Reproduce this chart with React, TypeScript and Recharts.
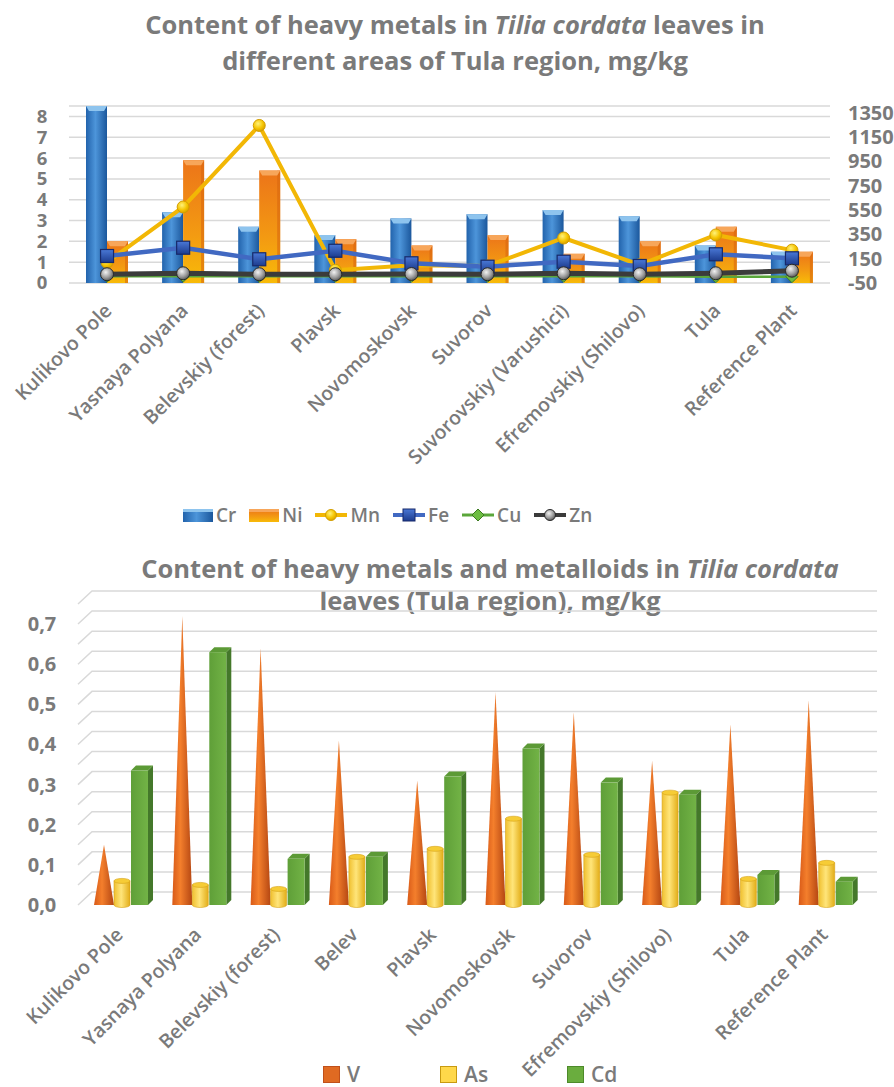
import { Bar, BarChart, CartesianGrid, ComposedChart, Line, XAxis, YAxis } from 'recharts'

const FONT = '"Open Sans", "Noto Sans", sans-serif'
const GREY = '#7a7a7a'

// Upper chart: sites and heavy metal contents, mg/kg
const sites = [
  'Kulikovo Pole',
  'Yasnaya Polyana',
  'Belevskiy (forest)',
  'Plavsk',
  'Novomoskovsk',
  'Suvorov',
  'Suvorovskiy (Varushici)',
  'Efremovskiy (Shilovo)',
  'Tula',
  'Reference Plant',
]
const cr = [8.5, 3.4, 2.7, 2.3, 3.1, 3.3, 3.5, 3.2, 1.8, 1.5]
const ni = [2.0, 5.9, 5.4, 2.1, 1.8, 2.3, 1.4, 2.0, 2.7, 1.5]
const mn = [120, 575, 1245, 55, 95, 90, 320, 100, 345, 220]
const fe = [172, 240, 145, 215, 112, 84, 125, 90, 186, 153]
const cu = [6, 6, 5, 6, 5, 5, 6, 5, 2, 2]
const zn = [22, 30, 22, 22, 24, 22, 30, 22, 30, 51]
const leftTicks = [0, 1, 2, 3, 4, 5, 6, 7, 8]
const rightTicks = [-50, 150, 350, 550, 750, 950, 1150, 1350]

// Lower chart: metals and metalloids, mg/kg
const sitesB = [
  'Kulikovo Pole',
  'Yasnaya Polyana',
  'Belevskiy (forest)',
  'Belev',
  'Plavsk',
  'Novomoskovsk',
  'Suvorov',
  'Efremovskiy (Shilovo)',
  'Tula',
  'Reference Plant',
]
const vanadium = [0.15, 0.72, 0.64, 0.41, 0.31, 0.53, 0.48, 0.36, 0.45, 0.51]
const arsenic = [0.06, 0.05, 0.04, 0.12, 0.14, 0.215, 0.125, 0.28, 0.065, 0.105]
const cadmium = [0.335, 0.63, 0.115, 0.12, 0.32, 0.39, 0.305, 0.275, 0.075, 0.058]
const bottomTicks = [0, 0.05, 0.1, 0.15, 0.2, 0.25, 0.3, 0.35, 0.4, 0.45, 0.5, 0.55, 0.6, 0.65, 0.7]

const topRows = sites.map((site, i) => ({ site, Cr: cr[i], Ni: ni[i], Mn: mn[i], Fe: fe[i], Cu: cu[i], Zn: zn[i] }))
const bottomRows = sitesB.map((site, i) => ({ site, V: vanadium[i], As: arsenic[i], Cd: cadmium[i] }))

function Gradients() {
  return (
    <svg width={0} height={0} style={{ position: 'absolute' }}>
      <defs>
        <linearGradient id="crBody" x1="0" x2="1" y1="0" y2="0">
          <stop offset="0" stopColor="#2263ac" />
          <stop offset="0.45" stopColor="#4d95da" />
          <stop offset="1" stopColor="#1b579c" />
        </linearGradient>
        <linearGradient id="niBody" x1="0" x2="0" y1="0" y2="1">
          <stop offset="0" stopColor="#ec7419" />
          <stop offset="0.6" stopColor="#f39a12" />
          <stop offset="1" stopColor="#f8bb08" />
        </linearGradient>
        <radialGradient id="mnDot" cx="0.4" cy="0.35" r="0.7">
          <stop offset="0" stopColor="#fff27a" />
          <stop offset="0.6" stopColor="#f5c400" />
          <stop offset="1" stopColor="#d49a00" />
        </radialGradient>
        <linearGradient id="feDot" x1="0" x2="0" y1="0" y2="1">
          <stop offset="0" stopColor="#4a78d6" />
          <stop offset="1" stopColor="#1d3c8e" />
        </linearGradient>
        <radialGradient id="znDot" cx="0.4" cy="0.35" r="0.7">
          <stop offset="0" stopColor="#f2f2f2" />
          <stop offset="0.6" stopColor="#9a9a9a" />
          <stop offset="1" stopColor="#505050" />
        </radialGradient>
        <linearGradient id="cone" x1="0" x2="1" y1="0" y2="0">
          <stop offset="0" stopColor="#d85a18" />
          <stop offset="0.4" stopColor="#f47f2c" />
          <stop offset="1" stopColor="#b44612" />
        </linearGradient>
        <linearGradient id="cyl" x1="0" x2="1" y1="0" y2="0">
          <stop offset="0" stopColor="#f0c030" />
          <stop offset="0.45" stopColor="#ffe57a" />
          <stop offset="1" stopColor="#e2ad18" />
        </linearGradient>
        <linearGradient id="boxFront" x1="0" x2="1" y1="0" y2="0">
          <stop offset="0" stopColor="#5f9f38" />
          <stop offset="1" stopColor="#72b346" />
        </linearGradient>
      </defs>
    </svg>
  )
}

function CrBar(p: any) {
  const { x, y, width, height } = p
  if (!height || height <= 0) return <g />
  const b = Math.min(5, height)
  return (
    <g>
      <rect x={x} y={y} width={width} height={height} fill="url(#crBody)" />
      <path d={`M${x},${y} L${x + width},${y} L${x + width - 3},${y + b} L${x + 3},${y + b} Z`} fill="#8ec4ee" />
    </g>
  )
}

function NiBar(p: any) {
  const { x, y, width, height } = p
  if (!height || height <= 0) return <g />
  const b = Math.min(5, height)
  return (
    <g>
      <rect x={x} y={y} width={width} height={height} fill="url(#niBody)" />
      <rect x={x + width - 3} y={y} width={3} height={height} fill="#d8680f" opacity={0.6} />
      <path d={`M${x},${y} L${x + width},${y} L${x + width - 3},${y + b} L${x + 3},${y + b} Z`} fill="#f7a65a" />
    </g>
  )
}

const mnDot = (p: any) => (
  <circle key={`mn${p.index}`} cx={p.cx} cy={p.cy} r={6} fill="url(#mnDot)" stroke="#d39e00" strokeWidth={1} />
)
const feDot = (p: any) => (
  <rect key={`fe${p.index}`} x={p.cx - 6.5} y={p.cy - 6.5} width={13} height={13} fill="url(#feDot)" stroke="#17296a" strokeWidth={1.2} />
)
const cuDot = (p: any) => (
  <path
    key={`cu${p.index}`}
    d={`M${p.cx},${p.cy - 6} L${p.cx + 6},${p.cy} L${p.cx},${p.cy + 6} L${p.cx - 6},${p.cy} Z`}
    fill="#6dbd42"
    stroke="#3b7a20"
    strokeWidth={1}
  />
)
const znDot = (p: any) => (
  <circle key={`zn${p.index}`} cx={p.cx} cy={p.cy} r={6.5} fill="url(#znDot)" stroke="#2a2a2a" strokeWidth={1} />
)

function ConeBar(p: any) {
  const { x, y, width, height } = p
  if (!height || height <= 0) return <g />
  const base = y + height
  const cx = x + width / 2
  return <path d={`M${x - 1},${base} L${cx},${y} L${x + width + 1},${base} Z`} fill="url(#cone)" />
}

function CylBar(p: any) {
  const { x, y, width, height } = p
  if (!height || height <= 0) return <g />
  const l = x + 1
  const w = width - 2
  const rx = w / 2
  const ry = 2.5
  return (
    <g>
      <path
        d={`M${l},${y} L${l},${y + height} A${rx},${ry} 0 0 0 ${l + w},${y + height} L${l + w},${y} Z`}
        fill="url(#cyl)"
        stroke="#d6a215"
        strokeWidth={0.6}
      />
      <ellipse cx={l + rx} cy={y} rx={rx} ry={ry} fill="#f6cc36" stroke="#d6a215" strokeWidth={0.6} />
    </g>
  )
}

function BoxBar(p: any) {
  const { x, y, width, height } = p
  if (!height || height <= 0) return <g />
  const d = 5
  const w = width - 1
  return (
    <g>
      <path d={`M${x + w},${y} L${x + w + d},${y - d} L${x + w + d},${y + height - d} L${x + w},${y + height} Z`} fill="#44782a" />
      <path d={`M${x},${y} L${x + d},${y - d} L${x + w + d},${y - d} L${x + w},${y} Z`} fill="#5c9a36" />
      <rect x={x} y={y} width={w} height={height} fill="url(#boxFront)" />
    </g>
  )
}

// back-wall gridline with a short slanted segment on the side wall
const wallLine = (p: any) => (
  <path
    key={`wall${p.index}`}
    d={`M${p.x1 - 5},${p.y1} L${p.x1 + 9},${p.y1 - 13} L${p.x2 + 11},${p.y1 - 13}`}
    fill="none"
    stroke="#d9d9d9"
    strokeWidth={1.5}
  />
)

const siteTick = (dx: number, dy: number) => (p: any) => {
  const x = p.x + dx
  const y = p.y + dy
  return (
    <text
      x={x}
      y={y}
      transform={`rotate(-45 ${x} ${y})`}
      textAnchor="end"
      fill={GREY}
      style={{ font: `600 19.5px ${FONT}` }}
    >
      {p.payload.value}
    </text>
  )
}

const valueTick = (x: number, anchor: 'middle' | 'start', size: number, fmt: (v: number) => string) => (p: any) => (
  <text x={x} y={p.y} dy="0.35em" textAnchor={anchor} fill={GREY} style={{ font: `700 ${size}px ${FONT}` }}>
    {fmt(p.payload.value)}
  </text>
)

const commaFmt = (v: number) => (Math.round(v * 100) % 10 === 0 ? v.toFixed(1).replace('.', ',') : '')

function TopLegend() {
  const item = (name: string, swatch: JSX.Element) => (
    <span key={name} style={{ display: 'inline-flex', alignItems: 'center', marginRight: 13 }}>
      {swatch}
      <span style={{ marginLeft: 3 }}>{name}</span>
    </span>
  )
  const lineSwatch = (color: string, marker: JSX.Element, w = 4) => (
    <svg width={32} height={16}>
      <line x1={0} x2={32} y1={8} y2={8} stroke={color} strokeWidth={w} />
      {marker}
    </svg>
  )
  const swatches: Record<string, JSX.Element> = {
    Cr: (
      <svg width={30} height={13}>
        <rect x={0} y={0} width={30} height={13} fill="url(#crBody)" />
        <rect x={0} y={0} width={30} height={3} fill="#8ec4ee" />
      </svg>
    ),
    Ni: (
      <svg width={30} height={13}>
        <rect x={0} y={0} width={30} height={13} fill="url(#niBody)" />
        <rect x={0} y={0} width={30} height={3} fill="#f7a65a" />
      </svg>
    ),
    Mn: lineSwatch('#f2b705', <circle cx={16} cy={8} r={5.5} fill="url(#mnDot)" stroke="#d39e00" />),
    Fe: lineSwatch('#4169c2', <rect x={10} y={2} width={12} height={12} fill="url(#feDot)" stroke="#17296a" />),
    Cu: lineSwatch('#5aa63a', <path d="M16,2 L22,8 L16,14 L10,8 Z" fill="#6dbd42" stroke="#3b7a20" />, 3),
    Zn: lineSwatch('#3b3b3b', <circle cx={16} cy={8} r={5.5} fill="url(#znDot)" stroke="#2a2a2a" />),
  }
  return (
    <div
      style={{
        position: 'absolute',
        left: 183,
        top: 502,
        display: 'flex',
        font: `600 19px ${FONT}`,
        color: GREY,
        whiteSpace: 'nowrap',
      }}
    >
      {['Cr', 'Ni', 'Mn', 'Fe', 'Cu', 'Zn'].map((n) => item(n, swatches[n]))}
    </div>
  )
}

function BottomLegend() {
  const entries = [
    { name: 'V', left: 323, fill: '#e06a22', stroke: '#c0501a' },
    { name: 'As', left: 440, fill: '#ffd84a', stroke: '#c89a10' },
    { name: 'Cd', left: 567, fill: '#6aad3e', stroke: '#4d8a2a' },
  ]
  return (
    <>
      {entries.map((e) => (
        <div
          key={e.name}
          style={{
            position: 'absolute',
            left: e.left,
            top: 1060,
            display: 'flex',
            alignItems: 'center',
            font: `600 21px ${FONT}`,
            color: GREY,
          }}
        >
          <span style={{ width: 15, height: 15, background: e.fill, border: `1px solid ${e.stroke}`, marginRight: 7 }} />
          {e.name}
        </div>
      ))}
    </>
  )
}

export default function App() {
  return (
    <div
      style={{ position: 'absolute', left: 0, top: 0, width: 894, height: 1087, background: '#fff', overflow: 'hidden' }}
    >
      <Gradients />
      <div
        style={{
          position: 'absolute',
          left: 0,
          top: 6,
          width: 910,
          textAlign: 'center',
          font: `700 25.5px ${FONT}`,
          lineHeight: '36px',
          color: GREY,
        }}
      >
        Content of heavy metals in <i>Tilia cordata</i> leaves in
        <br />
        different areas of Tula region, mg/kg
      </div>
      <div style={{ position: 'absolute', left: 0, top: 0 }}>
        <ComposedChart
          width={894}
          height={480}
          data={topRows}
          margin={{ top: 106, right: 0, bottom: 0, left: 0 }}
          barGap={0}
        >
          <CartesianGrid yAxisId="left" vertical={false} stroke="#d9d9d9" strokeWidth={1.5} />
          <XAxis dataKey="site" height={197} axisLine={false} tickLine={false} interval={0} tick={siteTick(6, 21)} />
          <YAxis
            yAxisId="left"
            width={69}
            domain={[0, 8.5]}
            ticks={leftTicks}
            interval={0}
            axisLine={false}
            tickLine={false}
            tick={valueTick(42, 'middle', 18.5, (v) => String(v))}
          />
          <YAxis
            yAxisId="right"
            orientation="right"
            width={64}
            domain={[-50, 1405]}
            ticks={rightTicks}
            interval={0}
            axisLine={false}
            tickLine={false}
            tick={valueTick(848, 'start', 20, (v) => String(v))}
          />
          <Bar yAxisId="left" dataKey="Cr" barSize={21} shape={CrBar} isAnimationActive={false} />
          <Bar yAxisId="left" dataKey="Ni" barSize={21} shape={NiBar} isAnimationActive={false} />
          <Line yAxisId="right" dataKey="Mn" stroke="#f2b705" strokeWidth={4} dot={mnDot} activeDot={false} isAnimationActive={false} />
          <Line yAxisId="right" dataKey="Fe" stroke="#4169c2" strokeWidth={4.5} dot={feDot} activeDot={false} isAnimationActive={false} />
          <Line yAxisId="right" dataKey="Cu" stroke="#5aa63a" strokeWidth={2.5} dot={cuDot} activeDot={false} isAnimationActive={false} />
          <Line yAxisId="right" dataKey="Zn" stroke="#3b3b3b" strokeWidth={5} dot={znDot} activeDot={false} isAnimationActive={false} />
        </ComposedChart>
      </div>
      <TopLegend />

      <div
        style={{
          position: 'absolute',
          left: 90,
          top: 552,
          width: 800,
          textAlign: 'center',
          font: `700 25.5px ${FONT}`,
          lineHeight: '32px',
          color: GREY,
        }}
      >
        Content of heavy metals and metalloids in <i>Tilia cordata</i>
        <br />
        leaves (Tula region), mg/kg
      </div>
      <div style={{ position: 'absolute', left: 0, top: 540 }}>
        <BarChart
          width={894}
          height={547}
          data={bottomRows}
          margin={{ top: 64, right: 28, bottom: 0, left: 0 }}
          barGap={0}
        >
          <CartesianGrid vertical={false} horizontal={wallLine} />
          <XAxis dataKey="site" height={182} axisLine={false} tickLine={false} interval={0} tick={siteTick(2, 23)} />
          <YAxis
            width={83}
            domain={[0, 0.75]}
            ticks={bottomTicks}
            interval={0}
            axisLine={false}
            tickLine={false}
            tick={valueTick(42, 'middle', 20, commaFmt)}
          />
          <Bar dataKey="V" barSize={18} shape={ConeBar} isAnimationActive={false} />
          <Bar dataKey="As" barSize={18} shape={CylBar} isAnimationActive={false} />
          <Bar dataKey="Cd" barSize={18} shape={BoxBar} isAnimationActive={false} />
        </BarChart>
      </div>
      <BottomLegend />
    </div>
  )
}
